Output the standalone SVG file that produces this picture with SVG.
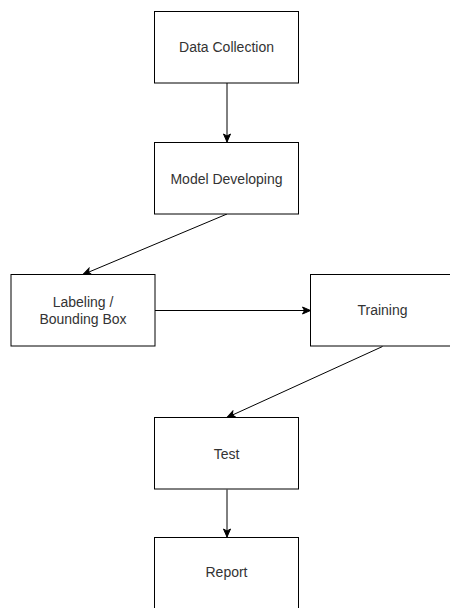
<svg xmlns="http://www.w3.org/2000/svg" width="450" height="608" viewBox="0 0 450 608">
<style>
.box{fill:#ffffff;stroke:#000000;stroke-width:1}
.lbl{font-family:"Liberation Sans",Arial,sans-serif;font-size:14px;fill:#333333;text-anchor:middle}
.edge{stroke:#000000;stroke-width:1;fill:none;marker-end:url(#arr)}
</style>
<defs>
<marker id="arr" markerUnits="userSpaceOnUse" markerWidth="10" markerHeight="10" viewBox="0 0 10 10" refX="9" refY="5" orient="auto">
<path d="M1,1.5 L9,5 L1,8.5 L3,5 Z" fill="#000000" stroke="#000000" stroke-width="1"/>
</marker>
</defs>
<rect width="450" height="608" fill="#ffffff"/>
<g id="connectors">
<line class="edge" x1="227" y1="83" x2="227" y2="142"/>
<line class="edge" x1="227" y1="214" x2="83" y2="274.5"/>
<line class="edge" x1="155" y1="310.5" x2="310.5" y2="310.5"/>
<line class="edge" x1="382.5" y1="346.5" x2="227" y2="417.5"/>
<line class="edge" x1="227" y1="489.5" x2="227" y2="537"/>
</g>
<g id="node-data-collection">
<rect class="box" x="154.5" y="11.5" width="144" height="71.5"/>
<text class="lbl" x="226.5" y="52">Data Collection</text>
</g>
<g id="node-model-developing">
<rect class="box" x="154.5" y="142.5" width="144" height="71.5"/>
<text class="lbl" x="226.5" y="184">Model Developing</text>
</g>
<g id="node-labeling">
<rect class="box" x="11" y="274.5" width="144" height="71.5"/>
<text class="lbl" x="83" y="306.5">Labeling /</text>
<text class="lbl" x="83" y="324">Bounding Box</text>
</g>
<g id="node-training">
<rect class="box" x="310.5" y="274.5" width="144" height="71.5"/>
<text class="lbl" x="382.5" y="315">Training</text>
</g>
<g id="node-test">
<rect class="box" x="154.5" y="417.5" width="144" height="71.5"/>
<text class="lbl" x="226.5" y="458.5">Test</text>
</g>
<g id="node-report">
<rect class="box" x="154.5" y="537.5" width="144" height="71.5"/>
<text class="lbl" x="226.5" y="577">Report</text>
</g>
</svg>
